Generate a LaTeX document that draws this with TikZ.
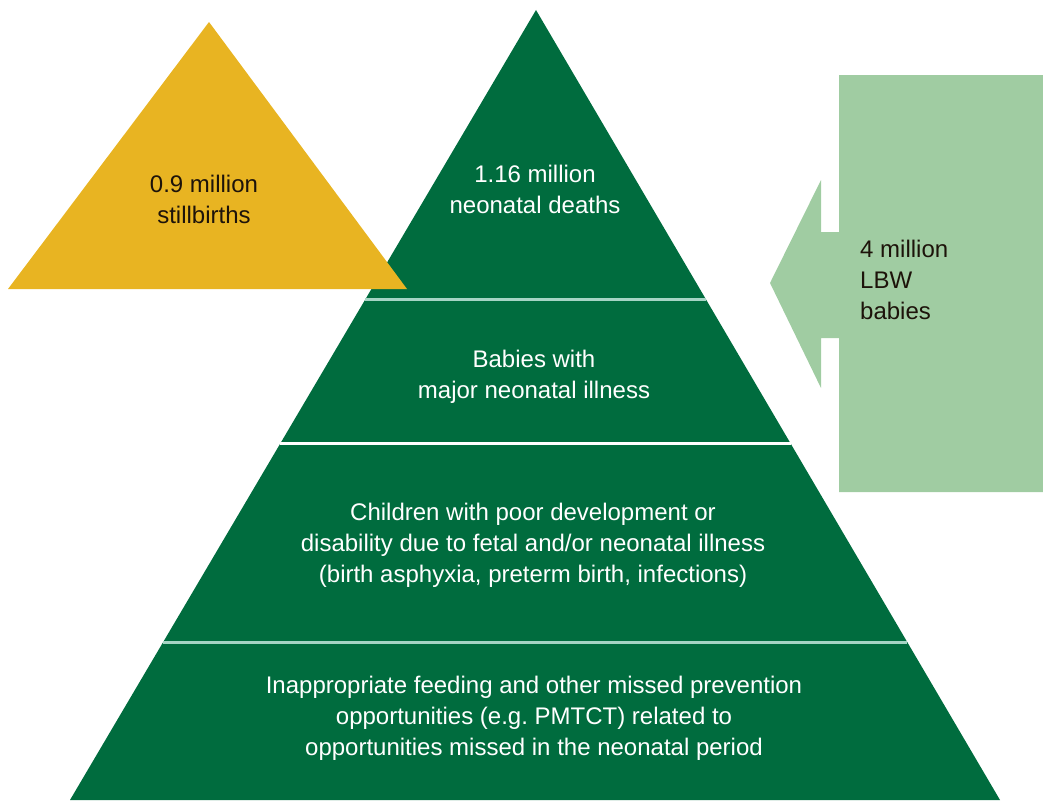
\documentclass[tikz,border=0pt]{standalone}
\usepackage{fontspec}
\setmainfont{Liberation Sans}
\usepackage{tikz}
\usetikzlibrary{calc}
\definecolor{pyrgreen}{RGB}{0,108,62}
\definecolor{stillgold}{RGB}{232,180,34}
\definecolor{lbwgreen}{RGB}{160,204,162}
\definecolor{sepline}{RGB}{165,212,196}
\tikzset{
	lbl/.style={align=center, font=\fontsize{24}{31}\selectfont, inner sep=0pt},
	darklbl/.style={lbl, text=black!85!brown},
	lightlbl/.style={lbl, text=white},
	tierline/.style={sepline, line width=3pt},
}
\begin{document}
\begin{tikzpicture}[x=1pt,y=-1pt]
\useasboundingbox (0,0) rectangle (1043,800);
\begin{scope}
\clip (0,0) rectangle (1043,800);
% pyramid
\coordinate (apex) at (536,10);
\coordinate (bl) at (70,800);
\coordinate (br) at (1000,800);
\fill[pyrgreen] (apex)--(bl)--(br)--cycle;
\draw[tierline] ($(apex)!0.366!(bl)$)--($(apex)!0.366!(br)$);
\draw[tierline,white] ($(apex)!0.549!(bl)$)--($(apex)!0.549!(br)$);
\draw[tierline] ($(apex)!0.8!(bl)$)--($(apex)!0.8!(br)$);
% stillbirths
\fill[stillgold] (209,22)--(8,289)--(407,289)--cycle;
% LBW arrow
\fill[lbwgreen] (1043,75)--(839,75)--(839,232)--(821,232)--(821,180)--(770,283)
	--(821,388)--(821,338)--(839,338)--(839,492)--(1043,492)--cycle;
\end{scope}
\node[darklbl] (still) at (204,199) {0.9 million\\stillbirths};
\node[lightlbl] (deaths) at (535,189) {1.16 million\\neonatal deaths};
\node[lightlbl] (ill) at (534,377) {Babies with\\major neonatal illness};
\node[lightlbl] (dev) at (533,545) {Children with poor development or\\disability due to fetal and/or neonatal illness\\(birth asphyxia, preterm birth, infections)};
\node[lightlbl] (feed) at (534,718) {Inappropriate feeding and other missed prevention\\opportunities (e.g.\ PMTCT) related to\\opportunities missed in the neonatal period};
\node[darklbl, align=left, anchor=west] (lbw) at (860,280) {4 million\\LBW\\babies};
\end{tikzpicture}
\end{document}
